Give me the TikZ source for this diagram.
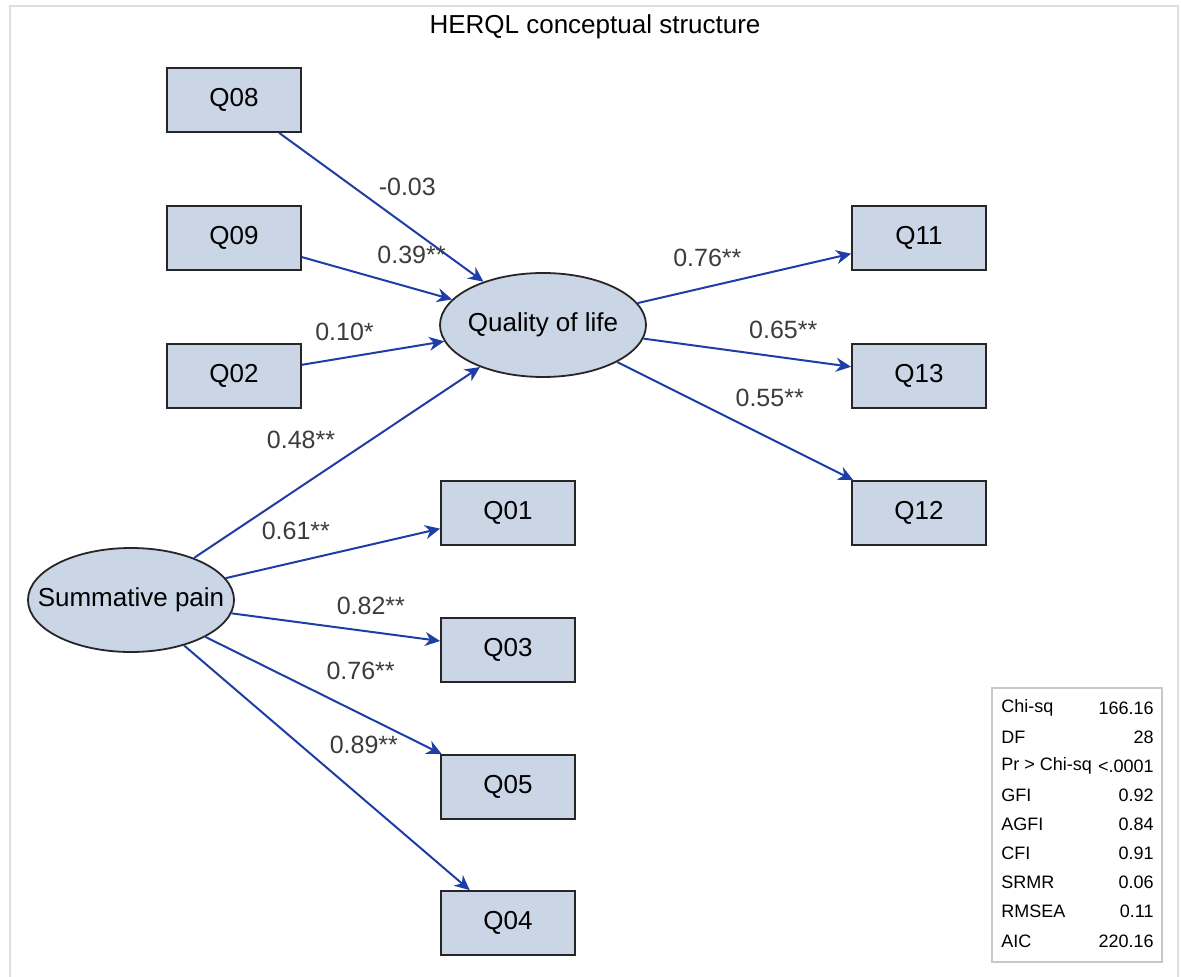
\documentclass[tikz,border=0pt]{standalone}
\usepackage{fontspec}
\setmainfont{Liberation Sans}
\usepackage{tikz}
\usetikzlibrary{shapes.geometric, arrows.meta}

\definecolor{boxfill}{RGB}{202,214,230}
\definecolor{pathblue}{RGB}{30,62,165}
\definecolor{coefgray}{RGB}{60,60,60}
\definecolor{framegray}{RGB}{222,222,222}
\definecolor{tablegray}{RGB}{200,200,200}

\begin{document}
\begin{tikzpicture}[
    x=0.5pt, y=-0.5pt,
    item/.style={
        rectangle, draw=black!85, line width=0.9pt,
        fill=boxfill,
        minimum width=67pt, minimum height=32pt,
        font=\fontsize{13}{15}\selectfont
    },
    latent/.style={
        ellipse, draw=black!85, line width=0.9pt,
        fill=boxfill,
        minimum width=103pt, minimum height=52pt,
        inner xsep=-12pt, inner ysep=0pt,
        font=\fontsize{13}{15}\selectfont
    },
    effect/.style={-{Stealth[length=7.5pt, width=7pt, inset=2.4pt]}, draw=pathblue, line width=1pt},
    coef/.style={font=\fontsize{12.5}{14}\selectfont, text=coefgray, inner sep=1pt},
    stat/.style={font=\fontsize{9}{11}\selectfont, inner sep=0pt},
]

\useasboundingbox (0,0) rectangle (1181,977);

% Rahmen und Titel
\draw[draw=framegray, line width=1.3pt] (10,977) -- (10,6) -- (1178,6) -- (1178,977);
\node[font=\fontsize{13}{15}\selectfont] (title) at (595,27) {HERQL conceptual structure};

% Latente Variablen
\node[latent] (qol)  at (543,325) {Quality of life};
\node[latent] (pain) at (131,600) {Summative pain};

% Items links
\node[item] (q08) at (234,100) {Q08};
\node[item] (q09) at (234,238) {Q09};
\node[item] (q02) at (234,376) {Q02};

% Items Schmerz
\node[item] (q01) at (508,513) {Q01};
\node[item] (q03) at (508,650) {Q03};
\node[item] (q05) at (508,787) {Q05};
\node[item] (q04) at (508,923) {Q04};

% Items rechts
\node[item] (q11) at (919,238) {Q11};
\node[item] (q13) at (919,376) {Q13};
\node[item] (q12) at (919,513) {Q12};

% Pfade auf Quality of life
\draw[effect] (q08) -- node[coef, xshift=13pt, yshift=10.25pt]{-0.03} (qol);
\draw[effect] (q09) -- node[coef, xshift=17.25pt, yshift=11.5pt]{0.39**} (qol);
\draw[effect] (q02) -- node[coef, xshift=-14.25pt, yshift=10.5pt]{0.10*} (qol);
\draw[effect] (pain) -- node[coef, xshift=-18pt, yshift=11.25pt]{0.48**} (qol);

% Ladungen Summative pain
\draw[effect] (pain) -- node[coef, xshift=-18.5pt, yshift=11.5pt]{0.61**} (q01);
\draw[effect] (pain) -- node[coef, xshift=17.5pt, yshift=10.5pt]{0.82**} (q03);
\draw[effect] (pain) -- node[coef, xshift=18.5pt, yshift=12.5pt]{0.76**} (q05);
\draw[effect] (pain) -- node[coef, xshift=18.5pt, yshift=11.5pt]{0.89**} (q04);

% Ladungen Quality of life
\draw[effect] (qol) -- node[coef, xshift=-18.5pt, yshift=10pt]{0.76**} (q11);
\draw[effect] (qol) -- node[coef, xshift=18pt, yshift=11.5pt]{0.65**} (q13);
\draw[effect] (qol) -- node[coef, xshift=17.25pt, yshift=11.5pt]{0.55**} (q12);

% Fit-Statistiken
\node[draw=tablegray, line width=0.7pt, minimum width=85pt, minimum height=137pt] (fitstats) at (1077,825) {};
\foreach \name/\val [count=\i from 0] in {Chi-sq/166.16, DF/28, Pr > Chi-sq/<.0001, GFI/0.92, AGFI/0.84, CFI/0.91, SRMR/0.06, RMSEA/0.11, AIC/220.16}
{
    \node[stat, anchor=west] (stat\i) at (1001,{708+29.1*\i}) {\name};
    \node[stat, anchor=east] (statval\i) at (1154,{708+29.1*\i}) {\val};
}

\end{tikzpicture}
\end{document}
